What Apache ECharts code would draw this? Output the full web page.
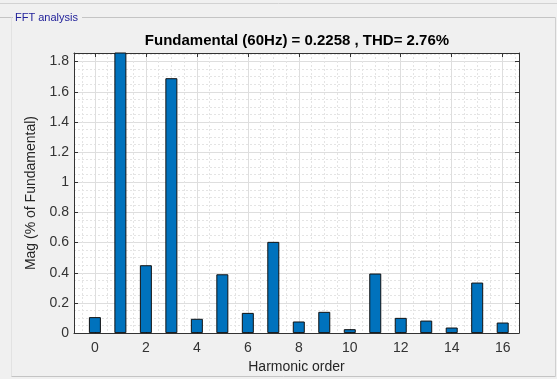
<!DOCTYPE html>
<html>
<head>
<meta charset="utf-8">
<title>FFT analysis</title>
<script src="https://cdn.jsdelivr.net/npm/echarts@6/dist/echarts.min.js"></script>
<style>
  html, body { margin: 0; padding: 0; background: #f0f0f0; }
  #chart { width: 557px; height: 379px; }
</style>
</head>
<body>
<div id="chart"></div>
<script>
// Harmonic spectrum, magnitude in % of the fundamental
const harmonics = [0, 1, 2, 3, 4, 5, 6, 7, 8, 9, 10, 11, 12, 13, 14, 15, 16];
const magnitudes = [0.106, 100, 0.45, 1.69, 0.095, 0.39, 0.134, 0.605, 0.077, 0.141,
                    0.026, 0.395, 0.101, 0.083, 0.037, 0.335, 0.070];
const xTickValues = [0, 2, 4, 6, 8, 10, 12, 14, 16];
const titleText = 'Fundamental (60Hz) = 0.2258 , THD= 2.76%';

const X_MIN = -0.82, X_MAX = 16.64;
const Y_MIN = 0, Y_MAX = 1.857;

// dotted minor grid positions: quarter steps of the major spacing
const xMinor = [];
for (let v = -0.5; v <= 16.5; v += 0.5) {
  if (v % 2 !== 0) xMinor.push(v);
}
const yMinor = [];
for (let i = 1; i * 0.05 < Y_MAX; i++) {
  if (i % 4 !== 0) yMinor.push(+(i * 0.05).toFixed(2));
}

const axisColor = '#333333';
const gridColor = '#dedede';
const minorColor = '#e4e4e4';
const font = 'Liberation Sans, Arial, sans-serif';

const chart = echarts.init(document.getElementById('chart'));

chart.setOption({
  backgroundColor: '#f0f0f0',
  animation: false,
  graphic: [
    { type: 'line', shape: { x1: 0, y1: 3.5, x2: 557, y2: 3.5 },
      style: { stroke: '#d2d2d2', lineWidth: 1 }, silent: true },
    { type: 'line', shape: { x1: 0, y1: 17.5, x2: 13, y2: 17.5 },
      style: { stroke: '#c4c4c4', lineWidth: 1 }, silent: true },
    { type: 'line', shape: { x1: 82, y1: 17.5, x2: 555.5, y2: 17.5 },
      style: { stroke: '#c4c4c4', lineWidth: 1 }, silent: true },
    { type: 'line', shape: { x1: 555.5, y1: 17.5, x2: 555.5, y2: 376.5 },
      style: { stroke: '#d0d0d0', lineWidth: 1 }, silent: true },
    { type: 'line', shape: { x1: 11.5, y1: 17.5, x2: 11.5, y2: 376.5 },
      style: { stroke: '#e2e2e2', lineWidth: 1 }, silent: true },
    { type: 'line', shape: { x1: 11.5, y1: 376.5, x2: 555.5, y2: 376.5 },
      style: { stroke: '#c4c4c4', lineWidth: 1 }, silent: true },
    { type: 'text', x: 15, y: 18,
      style: { text: 'FFT analysis', fill: '#22229a', font: '11px ' + font,
               textVerticalAlign: 'middle' }, silent: true },
    { type: 'rect', shape: { x: 74, y: 53, width: 445, height: 281 },
      style: { fill: '#ffffff' }, z: -10, silent: true },
    { type: 'text', x: 297, y: 41,
      style: { text: titleText, fill: '#000000', font: 'bold 15px ' + font,
               textAlign: 'center', textVerticalAlign: 'middle' }, silent: true }
  ],
  grid: { left: 74, right: 38, top: 53, bottom: 45, containLabel: false },
  xAxis: [
    {
      type: 'value', position: 'bottom', min: X_MIN, max: X_MAX,
      name: 'Harmonic order', nameLocation: 'middle', nameGap: 26,
      nameTextStyle: { color: '#262626', fontSize: 14, fontFamily: font },
      axisLine: { show: true, onZero: false, lineStyle: { color: axisColor, width: 1 } },
      axisTick: { show: true, inside: true, length: 4, customValues: xTickValues,
                  lineStyle: { color: axisColor } },
      axisLabel: { customValues: xTickValues, margin: 8, color: '#333333',
                   fontSize: 14, fontFamily: font },
      splitLine: { show: true, lineStyle: { color: gridColor, width: 1 } }
    },
    {
      type: 'value', position: 'top', min: X_MIN, max: X_MAX,
      axisLine: { show: true, onZero: false, lineStyle: { color: axisColor, width: 1 } },
      axisTick: { show: true, inside: true, length: 4, customValues: xTickValues,
                  lineStyle: { color: axisColor } },
      axisLabel: { show: false },
      splitLine: { show: false }
    },
    {
      type: 'value', position: 'bottom', min: X_MIN, max: X_MAX,
      axisLine: { show: false, onZero: false },
      axisTick: { show: false, customValues: xMinor },
      axisLabel: { show: false, customValues: xMinor },
      splitLine: { show: true, lineStyle: { color: minorColor, width: 1, type: [2, 2] } }
    }
  ],
  yAxis: [
    {
      type: 'value', position: 'left', min: Y_MIN, max: Y_MAX, interval: 0.2,
      name: 'Mag (% of Fundamental)', nameLocation: 'middle', nameGap: 31,
      nameRotate: 90,
      nameTextStyle: { color: '#262626', fontSize: 14, fontFamily: font },
      axisLine: { show: true, onZero: false, lineStyle: { color: axisColor, width: 1 } },
      axisTick: { show: true, inside: true, length: 4, lineStyle: { color: axisColor } },
      axisLabel: { showMaxLabel: false, margin: 5, color: '#333333',
                   fontSize: 14, fontFamily: font },
      splitLine: { show: true, lineStyle: { color: gridColor, width: 1 } }
    },
    {
      type: 'value', position: 'right', min: Y_MIN, max: Y_MAX, interval: 0.2,
      axisLine: { show: true, onZero: false, lineStyle: { color: axisColor, width: 1 } },
      axisTick: { show: true, inside: true, length: 4, lineStyle: { color: axisColor } },
      axisLabel: { show: false },
      splitLine: { show: false }
    },
    {
      type: 'value', position: 'left', min: Y_MIN, max: Y_MAX,
      axisLine: { show: false, onZero: false },
      axisTick: { show: false, customValues: yMinor },
      axisLabel: { show: false, customValues: yMinor },
      splitLine: { show: true, lineStyle: { color: minorColor, width: 1, type: [2, 2] } }
    }
  ],
  series: [
    {
      type: 'bar',
      xAxisIndex: 0,
      yAxisIndex: 0,
      clip: true,
      barWidth: 12,
      data: harmonics.map((h, i) => [h, magnitudes[i]]),
      itemStyle: { color: '#0072BD', borderColor: '#111111', borderWidth: 1 }
    }
  ]
});
</script>
</body>
</html>
